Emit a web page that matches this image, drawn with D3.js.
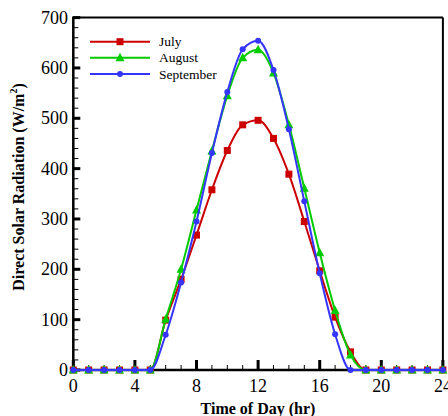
<!DOCTYPE html>
<html><head><meta charset="utf-8">
<script src="https://cdn.jsdelivr.net/npm/d3@7"></script>
<style>body{margin:0;background:#fff}svg{display:block}</style></head>
<body><svg id="c" width="448" height="416"></svg>
<script>
const hours = [0,1,2,3,4,5,6,7,8,9,10,11,12,13,14,15,16,17,18,19,20,21,22,23,24];
const july = [0,0,0,0,0,0,99,180,268,358,436,487,496,460,389,295,197,105,36,0,0,0,0,0,0];
const august = [0,0,0,0,0,0,101,200,318,435,545,620,636,590,487,361,233,118,30,0,0,0,0,0,0];
const september = [0,0,0,0,0,0,70,174,295,431,552,637,654,596,478,335,192,71,0,0,0,0,0,0,0];
const seriesNames = ["July","August","September"];
const xTicks = [0,4,8,12,16,20,24];
const yTicks = [0,100,200,300,400,500,600,700];

const colors = ["#cc0000","#00cc00","#3535ff"];
const shapes = ["square","triangle","circle"];
const data = [july, august, september];

const svg = d3.select("#c");
const L = 73.3, R = 442.9, T = 17.6, B = 370;
const x = d3.scaleLinear().domain([0,24]).range([L,R]);
const y = d3.scaleLinear().domain([0,700]).range([B,T]);
const font = "'Liberation Serif','Times New Roman',serif";

// minor ticks
const gx = svg.append("g");
gx.selectAll("line.minx").data(d3.range(0,25)).enter().append("line")
  .attr("x1",d=>x(d)).attr("x2",d=>x(d)).attr("y1",B).attr("y2",B-5)
  .attr("stroke","#000").attr("stroke-width",1);
gx.selectAll("line.majx").data(xTicks).enter().append("line")
  .attr("x1",d=>x(d)).attr("x2",d=>x(d)).attr("y1",B).attr("y2",B-10)
  .attr("stroke","#000").attr("stroke-width",3);
gx.selectAll("line.miny").data(d3.range(0,701,20)).enter().append("line")
  .attr("y1",d=>y(d)).attr("y2",d=>y(d)).attr("x1",L).attr("x2",L+5)
  .attr("stroke","#000").attr("stroke-width",1);
gx.selectAll("line.majy").data(yTicks).enter().append("line")
  .attr("y1",d=>y(d)).attr("y2",d=>y(d)).attr("x1",L).attr("x2",L+7)
  .attr("stroke","#000").attr("stroke-width",3);

// frame
svg.append("line").attr("x1",L).attr("x2",R).attr("y1",T).attr("y2",T).attr("stroke","#000").attr("stroke-width",2);
svg.append("line").attr("x1",R).attr("x2",R).attr("y1",T).attr("y2",B).attr("stroke","#000").attr("stroke-width",2);
svg.append("line").attr("x1",L).attr("x2",R).attr("y1",B).attr("y2",B).attr("stroke","#000").attr("stroke-width",2.5);
svg.append("line").attr("x1",L).attr("x2",L).attr("y1",T-1).attr("y2",B+1).attr("stroke","#000").attr("stroke-width",2.5);

// tick labels
svg.selectAll("text.xl").data(xTicks).enter().append("text")
  .attr("x",d=>x(d)).attr("y",392).attr("text-anchor","middle")
  .attr("font-family",font).attr("font-size",18).text(d=>d);
svg.selectAll("text.yl").data(yTicks).enter().append("text")
  .attr("x",68).attr("y",d=>y(d)+6).attr("text-anchor","end")
  .attr("font-family",font).attr("font-size",18).text(d=>d);

// axis titles
svg.append("text").attr("x",258).attr("y",414).attr("text-anchor","middle")
  .attr("font-family",font).attr("font-size",16).attr("font-weight","bold").text("Time of Day (hr)");
const yt = svg.append("text").attr("transform","translate(24,187) rotate(-90)").attr("text-anchor","middle")
  .attr("font-family",font).attr("font-size",16).attr("font-weight","bold");
yt.append("tspan").text("Direct Solar Radiation (W/m");
yt.append("tspan").attr("font-size",10).attr("dy",-7).text("2");
yt.append("tspan").attr("dy",7).text(")");

const line = d3.line().x((d,i)=>x(hours[i])).y(d=>y(d)).curve(d3.curveMonotoneX);

function marker(g, shape, cx, cy, color){
  if(shape==="square"){
    g.append("rect").attr("x",cx-3.5).attr("y",cy-3.5).attr("width",7).attr("height",7).attr("fill",color);
  } else if(shape==="triangle"){
    g.append("path").attr("d",`M${cx},${cy-5}L${cx+4.5},${cy+3.5}L${cx-4.5},${cy+3.5}Z`).attr("fill",color);
  } else {
    g.append("circle").attr("cx",cx).attr("cy",cy).attr("r",3).attr("fill",color);
  }
}

data.forEach((vals,k)=>{
  const g = svg.append("g");
  g.append("path").datum(vals).attr("d",line).attr("fill","none")
    .attr("stroke",colors[k]).attr("stroke-width",2);
  vals.forEach((v,i)=>marker(g, shapes[k], x(hours[i]), y(v), colors[k]));
});

// legend
const legY = [41.7, 57.7, 74];
seriesNames.forEach((n,k)=>{
  const g = svg.append("g");
  g.append("line").attr("x1",90).attr("x2",150).attr("y1",legY[k]).attr("y2",legY[k])
    .attr("stroke",colors[k]).attr("stroke-width",2);
  marker(g, shapes[k], 120, legY[k], colors[k]);
  g.append("text").attr("x",159).attr("y",legY[k]+4.5).attr("font-family",font)
    .attr("font-size",13.5).text(n);
});
</script></body></html>
